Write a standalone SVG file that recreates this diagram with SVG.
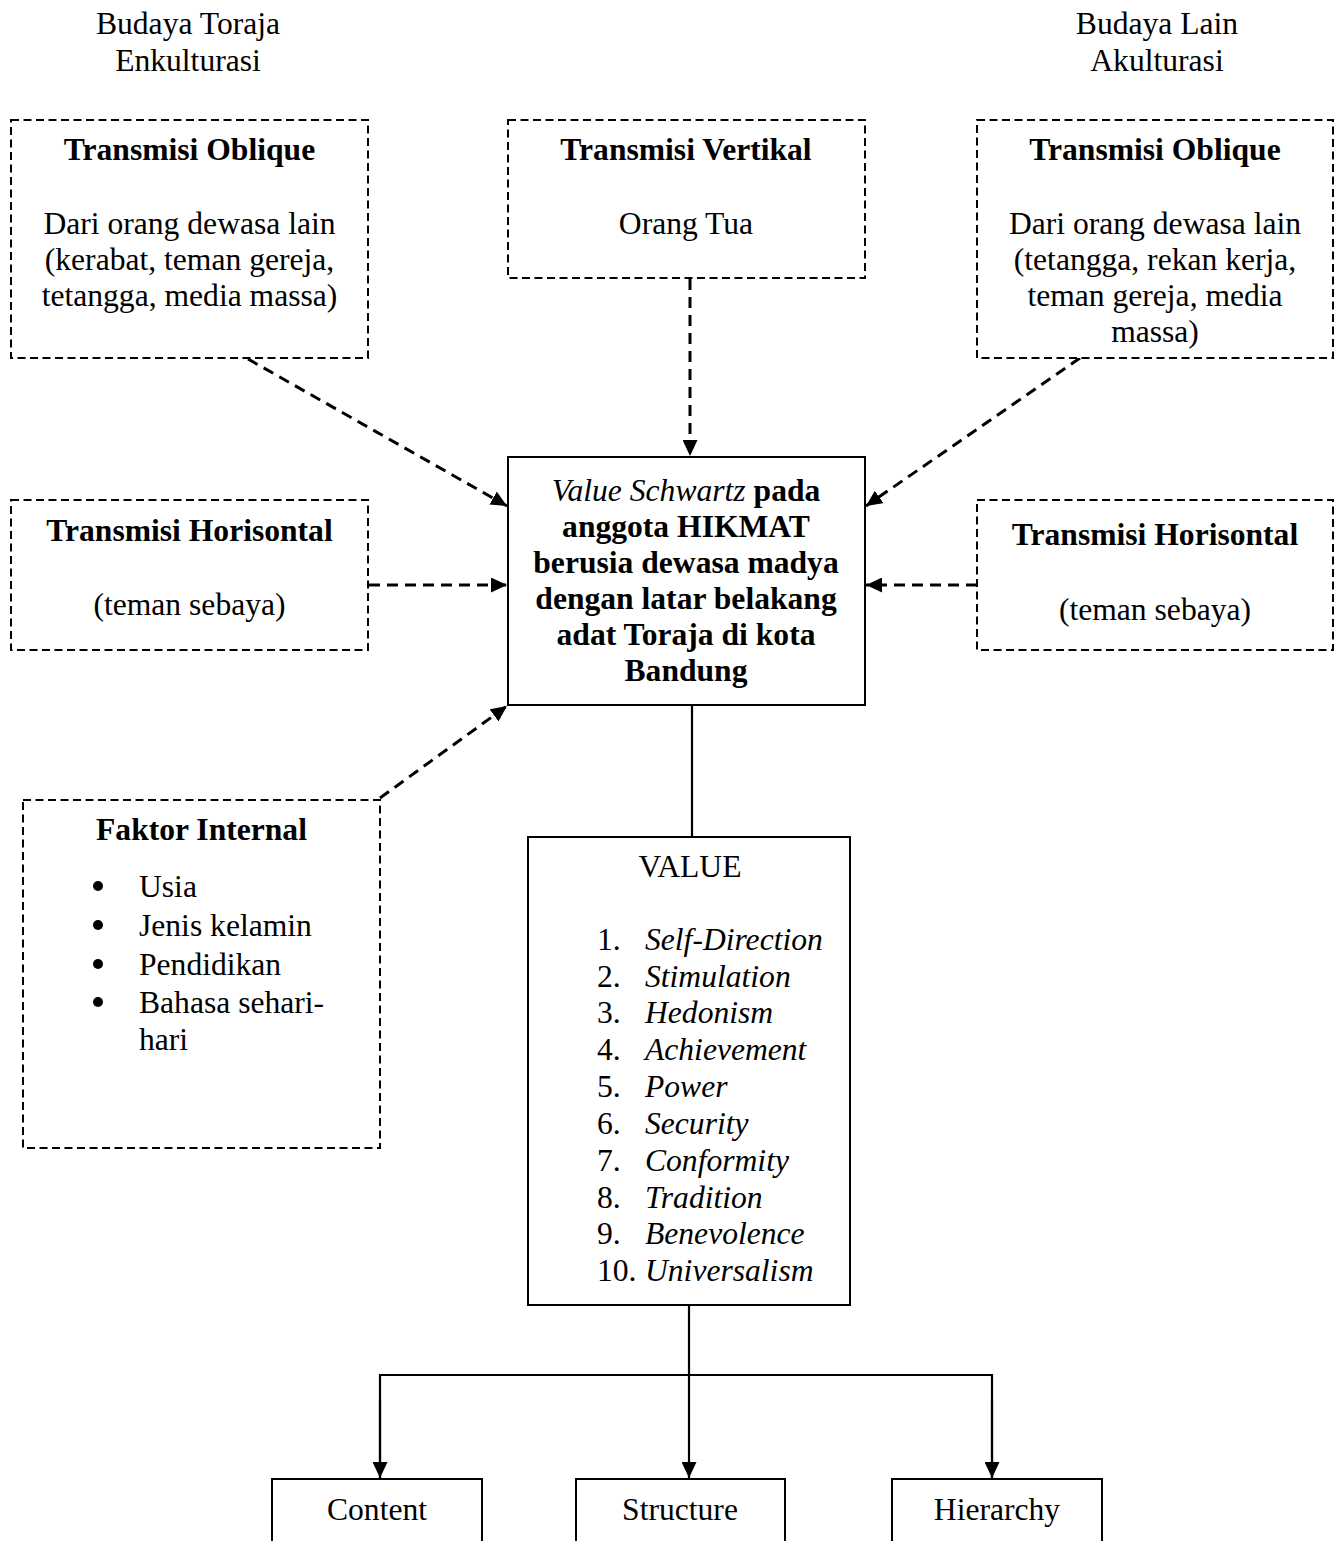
<svg xmlns="http://www.w3.org/2000/svg" width="1338" height="1541" viewBox="0 0 1338 1541">
<style>
text{font-family:"Liberation Serif","Times New Roman",serif;font-size:31.6px;fill:#000}
.c{text-anchor:middle}
.b{font-weight:bold}
.i{font-style:italic}
.dbox{fill:#fff;stroke:#000;stroke-width:2;stroke-dasharray:8 4.5}
.sbox{fill:#fff;stroke:#000;stroke-width:2}
.dl{fill:none;stroke:#000;stroke-width:3;stroke-dasharray:11 7}
.sl{fill:none;stroke:#000;stroke-width:2.2}
</style>
<defs>
<marker id="ah" markerUnits="userSpaceOnUse" markerWidth="17" markerHeight="15" refX="16" refY="7.5" orient="auto">
<path d="M0,0 L16,7.5 L0,15 z" fill="#000"/>
</marker>
</defs>
<rect width="1338" height="1541" fill="#fff"/>
<g id="labels">
<text class="c" x="188" y="34">Budaya Toraja</text>
<text class="c" x="188" y="71">Enkulturasi</text>
<text class="c" x="1157" y="34">Budaya Lain</text>
<text class="c" x="1157" y="71">Akulturasi</text>
</g>
<g id="connectors">
<line class="dl" x1="248" y1="359" x2="507" y2="506" marker-end="url(#ah)"/>
<line class="dl" x1="690" y1="279" x2="690" y2="456" marker-end="url(#ah)"/>
<line class="dl" x1="1080" y1="358" x2="866" y2="506" marker-end="url(#ah)"/>
<line class="dl" x1="369" y1="585" x2="507" y2="585" marker-end="url(#ah)"/>
<line class="dl" x1="977" y1="585" x2="866" y2="585" marker-end="url(#ah)"/>
<line class="dl" x1="380" y1="798" x2="507" y2="706" marker-end="url(#ah)"/>
<line class="sl" x1="692" y1="705" x2="692" y2="837"/>
<line class="sl" x1="689" y1="1305" x2="689" y2="1478" marker-end="url(#ah)"/>
<polyline class="sl" points="380,1478 380,1375 992,1375 992,1478"/>
<line class="sl" x1="380" y1="1400" x2="380" y2="1478" marker-end="url(#ah)"/>
<line class="sl" x1="992" y1="1400" x2="992" y2="1478" marker-end="url(#ah)"/>
</g>
<g id="oblique-left">
<rect class="dbox" x="11" y="120" width="357" height="238"/>
<text class="c b" x="189.5" y="160">Transmisi Oblique</text>
<text class="c" x="189.5" y="234">Dari orang dewasa lain</text>
<text class="c" x="189.5" y="270">(kerabat, teman gereja,</text>
<text class="c" x="189.5" y="306">tetangga, media massa)</text>
</g>
<g id="vertikal">
<rect class="dbox" x="508" y="120" width="357" height="158"/>
<text class="c b" x="686" y="160">Transmisi Vertikal</text>
<text class="c" x="686" y="234">Orang Tua</text>
</g>
<g id="oblique-right">
<rect class="dbox" x="977" y="120" width="356" height="238"/>
<text class="c b" x="1155" y="160">Transmisi Oblique</text>
<text class="c" x="1155" y="234">Dari orang dewasa lain</text>
<text class="c" x="1155" y="270">(tetangga, rekan kerja,</text>
<text class="c" x="1155" y="306">teman gereja, media</text>
<text class="c" x="1155" y="342">massa)</text>
</g>
<g id="horisontal-left">
<rect class="dbox" x="11" y="500" width="357" height="150"/>
<text class="c b" x="189.5" y="541">Transmisi Horisontal</text>
<text class="c" x="189.5" y="615">(teman sebaya)</text>
</g>
<g id="horisontal-right">
<rect class="dbox" x="977" y="500" width="356" height="150"/>
<text class="c b" x="1155" y="545">Transmisi Horisontal</text>
<text class="c" x="1155" y="620">(teman sebaya)</text>
</g>
<g id="center">
<rect class="sbox" x="508" y="457" width="357" height="248"/>
<text class="c b" x="686" y="501"><tspan font-style="italic" font-weight="normal">Value Schwartz</tspan> pada</text>
<text class="c b" x="686" y="537">anggota HIKMAT</text>
<text class="c b" x="686" y="573">berusia dewasa madya</text>
<text class="c b" x="686" y="609">dengan latar belakang</text>
<text class="c b" x="686" y="645">adat Toraja di kota</text>
<text class="c b" x="686" y="681">Bandung</text>
</g>
<g id="faktor-internal">
<rect class="dbox" x="23" y="800" width="357" height="348"/>
<text class="c b" x="201.5" y="840">Faktor Internal</text>
<circle cx="98" cy="886" r="5"/>
<circle cx="98" cy="925" r="5"/>
<circle cx="98" cy="964" r="5"/>
<circle cx="98" cy="1002" r="5"/>
<text x="139" y="897">Usia</text>
<text x="139" y="936">Jenis kelamin</text>
<text x="139" y="975">Pendidikan</text>
<text x="139" y="1013">Bahasa sehari-</text>
<text x="139" y="1050">hari</text>
</g>
<g id="value">
<rect class="sbox" x="528" y="837" width="322" height="468"/>
<text class="c" x="690" y="877">VALUE</text>
<text x="597" y="950">1.</text><text class="i" x="645" y="950">Self-Direction</text>
<text x="597" y="987">2.</text><text class="i" x="645" y="987">Stimulation</text>
<text x="597" y="1023">3.</text><text class="i" x="645" y="1023">Hedonism</text>
<text x="597" y="1060">4.</text><text class="i" x="645" y="1060">Achievement</text>
<text x="597" y="1097">5.</text><text class="i" x="645" y="1097">Power</text>
<text x="597" y="1134">6.</text><text class="i" x="645" y="1134">Security</text>
<text x="597" y="1171">7.</text><text class="i" x="645" y="1171">Conformity</text>
<text x="597" y="1208">8.</text><text class="i" x="645" y="1208">Tradition</text>
<text x="597" y="1244">9.</text><text class="i" x="645" y="1244">Benevolence</text>
<text x="597" y="1281">10.</text><text class="i" x="645" y="1281">Universalism</text>
</g>
<g id="content">
<rect class="sbox" x="272" y="1479" width="210" height="80"/>
<text class="c" x="377" y="1520">Content</text>
</g>
<g id="structure">
<rect class="sbox" x="576" y="1479" width="209" height="80"/>
<text class="c" x="680" y="1520">Structure</text>
</g>
<g id="hierarchy">
<rect class="sbox" x="892" y="1479" width="210" height="80"/>
<text class="c" x="997" y="1520">Hierarchy</text>
</g>
</svg>
